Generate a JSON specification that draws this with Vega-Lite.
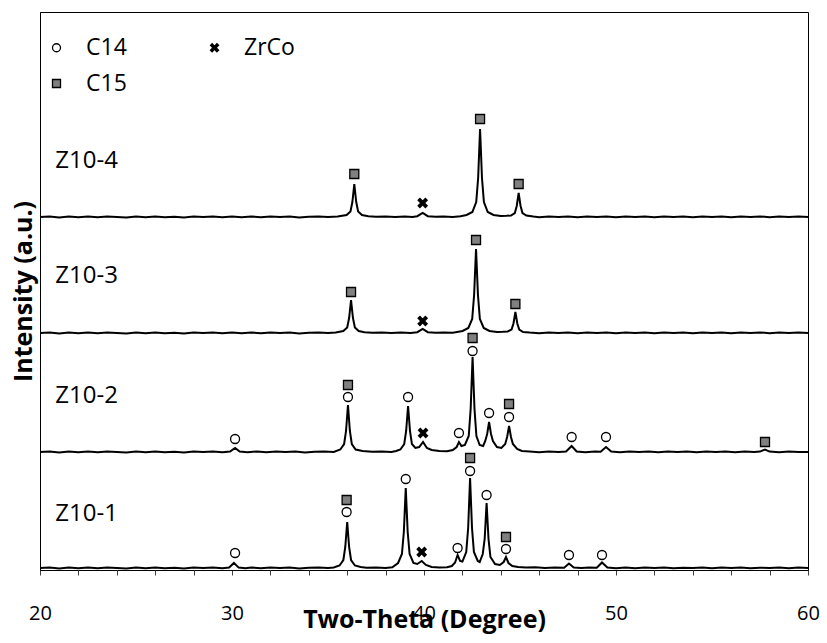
{
  "$schema": "https://vega.github.io/schema/vega-lite/v6.json",
  "width": 768,
  "height": 558,
  "autosize": {"type": "none"},
  "padding": {"left": 40, "top": 12, "right": 19, "bottom": 73},
  "background": "white",
  "config": {"view": {"stroke": "black", "strokeWidth": 1}, "font": "Open Sans"},
  "resolve": {"axis": {"x": "independent"}},
  "datasets": {
    "traces": [
      {"s":"Z10-1","t":20,"i":2},{"s":"Z10-1","t":20.5,"i":2.6},{"s":"Z10-1","t":21,"i":1.6},{"s":"Z10-1","t":21.5,"i":2.4},{"s":"Z10-1","t":22,"i":1.8},{"s":"Z10-1","t":22.5,"i":2.5},{"s":"Z10-1","t":23,"i":1.7},{"s":"Z10-1","t":23.5,"i":2.6},{"s":"Z10-1","t":24,"i":2},{"s":"Z10-1","t":24.5,"i":1.6},{"s":"Z10-1","t":25,"i":2.5},{"s":"Z10-1","t":25.5,"i":1.8},{"s":"Z10-1","t":26,"i":2.6},{"s":"Z10-1","t":26.5,"i":1.7},{"s":"Z10-1","t":27,"i":2.3},{"s":"Z10-1","t":27.5,"i":1.6},{"s":"Z10-1","t":28,"i":2.5},{"s":"Z10-1","t":28.5,"i":2},{"s":"Z10-1","t":29,"i":2.6},{"s":"Z10-1","t":29.5,"i":1.8},{"s":"Z10-1","t":29.85,"i":2.5},{"s":"Z10-1","t":30.1,"i":7},{"s":"Z10-1","t":30.35,"i":2.4},{"s":"Z10-1","t":30.7,"i":1.8},{"s":"Z10-1","t":31,"i":2.6},{"s":"Z10-1","t":31.5,"i":1.7},{"s":"Z10-1","t":32,"i":2.4},{"s":"Z10-1","t":32.5,"i":2},{"s":"Z10-1","t":33,"i":2.6},{"s":"Z10-1","t":33.5,"i":1.6},{"s":"Z10-1","t":34,"i":2.3},{"s":"Z10-1","t":34.5,"i":2.6},{"s":"Z10-1","t":35,"i":1.9},{"s":"Z10-1","t":35.3,"i":2.5},{"s":"Z10-1","t":35.6,"i":4.5},{"s":"Z10-1","t":35.8,"i":10},{"s":"Z10-1","t":35.9,"i":23},{"s":"Z10-1","t":36,"i":48},{"s":"Z10-1","t":36.1,"i":23},{"s":"Z10-1","t":36.2,"i":10},{"s":"Z10-1","t":36.4,"i":4.5},{"s":"Z10-1","t":36.7,"i":3},{"s":"Z10-1","t":37,"i":2.2},{"s":"Z10-1","t":37.5,"i":2.6},{"s":"Z10-1","t":38,"i":1.9},{"s":"Z10-1","t":38.35,"i":2.8},{"s":"Z10-1","t":38.65,"i":7},{"s":"Z10-1","t":38.85,"i":16},{"s":"Z10-1","t":38.95,"i":38},{"s":"Z10-1","t":39.05,"i":82},{"s":"Z10-1","t":39.15,"i":38},{"s":"Z10-1","t":39.25,"i":16},{"s":"Z10-1","t":39.45,"i":7},{"s":"Z10-1","t":39.65,"i":6},{"s":"Z10-1","t":39.88,"i":9},{"s":"Z10-1","t":40.1,"i":5},{"s":"Z10-1","t":40.4,"i":3},{"s":"Z10-1","t":40.8,"i":2.4},{"s":"Z10-1","t":41.2,"i":2.8},{"s":"Z10-1","t":41.45,"i":4},{"s":"Z10-1","t":41.62,"i":7.5},{"s":"Z10-1","t":41.75,"i":15},{"s":"Z10-1","t":41.88,"i":9},{"s":"Z10-1","t":42,"i":8.5},{"s":"Z10-1","t":42.2,"i":18},{"s":"Z10-1","t":42.3,"i":42},{"s":"Z10-1","t":42.4,"i":92},{"s":"Z10-1","t":42.5,"i":42},{"s":"Z10-1","t":42.6,"i":18},{"s":"Z10-1","t":42.8,"i":9},{"s":"Z10-1","t":42.9,"i":8},{"s":"Z10-1","t":43.06,"i":16},{"s":"Z10-1","t":43.16,"i":31},{"s":"Z10-1","t":43.26,"i":67},{"s":"Z10-1","t":43.36,"i":31},{"s":"Z10-1","t":43.46,"i":13},{"s":"Z10-1","t":43.7,"i":6},{"s":"Z10-1","t":43.95,"i":5},{"s":"Z10-1","t":44.15,"i":8},{"s":"Z10-1","t":44.27,"i":13},{"s":"Z10-1","t":44.4,"i":7},{"s":"Z10-1","t":44.6,"i":4},{"s":"Z10-1","t":44.9,"i":3},{"s":"Z10-1","t":45.3,"i":2.4},{"s":"Z10-1","t":45.8,"i":2.7},{"s":"Z10-1","t":46.3,"i":1.9},{"s":"Z10-1","t":46.8,"i":2.5},{"s":"Z10-1","t":47.3,"i":2.2},{"s":"Z10-1","t":47.55,"i":6.5},{"s":"Z10-1","t":47.8,"i":2.5},{"s":"Z10-1","t":48.2,"i":1.9},{"s":"Z10-1","t":48.6,"i":2.6},{"s":"Z10-1","t":49,"i":2.2},{"s":"Z10-1","t":49.27,"i":7.5},{"s":"Z10-1","t":49.55,"i":2.5},{"s":"Z10-1","t":50,"i":1.8},{"s":"Z10-1","t":50.5,"i":2.5},{"s":"Z10-1","t":51,"i":1.7},{"s":"Z10-1","t":51.5,"i":2.4},{"s":"Z10-1","t":52,"i":2},{"s":"Z10-1","t":52.5,"i":2.6},{"s":"Z10-1","t":53,"i":1.7},{"s":"Z10-1","t":53.5,"i":2.3},{"s":"Z10-1","t":54,"i":1.9},{"s":"Z10-1","t":54.5,"i":2.6},{"s":"Z10-1","t":55,"i":1.8},{"s":"Z10-1","t":55.5,"i":2.4},{"s":"Z10-1","t":56,"i":2},{"s":"Z10-1","t":56.5,"i":2.6},{"s":"Z10-1","t":57,"i":1.7},{"s":"Z10-1","t":57.5,"i":2.3},{"s":"Z10-1","t":58,"i":1.9},{"s":"Z10-1","t":58.5,"i":2.5},{"s":"Z10-1","t":59,"i":1.8},{"s":"Z10-1","t":59.5,"i":2.4},{"s":"Z10-1","t":60,"i":2},

      {"s":"Z10-2","t":20,"i":118},{"s":"Z10-2","t":20.5,"i":118.6},{"s":"Z10-2","t":21,"i":117.6},{"s":"Z10-2","t":21.5,"i":118.4},{"s":"Z10-2","t":22,"i":117.8},{"s":"Z10-2","t":22.5,"i":118.5},{"s":"Z10-2","t":23,"i":117.7},{"s":"Z10-2","t":23.5,"i":118.6},{"s":"Z10-2","t":24,"i":118},{"s":"Z10-2","t":24.5,"i":117.6},{"s":"Z10-2","t":25,"i":118.5},{"s":"Z10-2","t":25.5,"i":117.8},{"s":"Z10-2","t":26,"i":118.6},{"s":"Z10-2","t":26.5,"i":117.7},{"s":"Z10-2","t":27,"i":118.3},{"s":"Z10-2","t":27.5,"i":117.6},{"s":"Z10-2","t":28,"i":118.5},{"s":"Z10-2","t":28.5,"i":118},{"s":"Z10-2","t":29,"i":118.6},{"s":"Z10-2","t":29.5,"i":117.8},{"s":"Z10-2","t":29.9,"i":118.5},{"s":"Z10-2","t":30.16,"i":122},{"s":"Z10-2","t":30.4,"i":118.4},{"s":"Z10-2","t":30.8,"i":117.8},{"s":"Z10-2","t":31.3,"i":118.6},{"s":"Z10-2","t":31.8,"i":117.7},{"s":"Z10-2","t":32.3,"i":118.4},{"s":"Z10-2","t":32.8,"i":118},{"s":"Z10-2","t":33.3,"i":118.6},{"s":"Z10-2","t":33.8,"i":117.6},{"s":"Z10-2","t":34.3,"i":118.3},{"s":"Z10-2","t":34.8,"i":118.6},{"s":"Z10-2","t":35.3,"i":118},{"s":"Z10-2","t":35.64,"i":120.5},{"s":"Z10-2","t":35.84,"i":126},{"s":"Z10-2","t":35.94,"i":139},{"s":"Z10-2","t":36.04,"i":165},{"s":"Z10-2","t":36.14,"i":139},{"s":"Z10-2","t":36.24,"i":126},{"s":"Z10-2","t":36.44,"i":120.5},{"s":"Z10-2","t":36.8,"i":119},{"s":"Z10-2","t":37.3,"i":118.2},{"s":"Z10-2","t":37.8,"i":118.6},{"s":"Z10-2","t":38.3,"i":118},{"s":"Z10-2","t":38.55,"i":119},{"s":"Z10-2","t":38.77,"i":120.5},{"s":"Z10-2","t":38.97,"i":126},{"s":"Z10-2","t":39.07,"i":139},{"s":"Z10-2","t":39.17,"i":164},{"s":"Z10-2","t":39.27,"i":139},{"s":"Z10-2","t":39.37,"i":126},{"s":"Z10-2","t":39.55,"i":122},{"s":"Z10-2","t":39.75,"i":123},{"s":"Z10-2","t":39.95,"i":128},{"s":"Z10-2","t":40.15,"i":122},{"s":"Z10-2","t":40.4,"i":120},{"s":"Z10-2","t":40.8,"i":119},{"s":"Z10-2","t":41.2,"i":118.8},{"s":"Z10-2","t":41.5,"i":120},{"s":"Z10-2","t":41.7,"i":123},{"s":"Z10-2","t":41.82,"i":128},{"s":"Z10-2","t":41.95,"i":124},{"s":"Z10-2","t":42.13,"i":125},{"s":"Z10-2","t":42.33,"i":134},{"s":"Z10-2","t":42.43,"i":161},{"s":"Z10-2","t":42.53,"i":213},{"s":"Z10-2","t":42.63,"i":161},{"s":"Z10-2","t":42.73,"i":134},{"s":"Z10-2","t":42.9,"i":125},{"s":"Z10-2","t":43.08,"i":124},{"s":"Z10-2","t":43.19,"i":129},{"s":"Z10-2","t":43.29,"i":136},{"s":"Z10-2","t":43.39,"i":148},{"s":"Z10-2","t":43.49,"i":136},{"s":"Z10-2","t":43.59,"i":129},{"s":"Z10-2","t":43.8,"i":123},{"s":"Z10-2","t":44.03,"i":122},{"s":"Z10-2","t":44.23,"i":126},{"s":"Z10-2","t":44.33,"i":133},{"s":"Z10-2","t":44.43,"i":144},{"s":"Z10-2","t":44.53,"i":133},{"s":"Z10-2","t":44.63,"i":126},{"s":"Z10-2","t":44.85,"i":121},{"s":"Z10-2","t":45.1,"i":119},{"s":"Z10-2","t":45.5,"i":118.5},{"s":"Z10-2","t":46,"i":117.8},{"s":"Z10-2","t":46.5,"i":118.5},{"s":"Z10-2","t":47,"i":118},{"s":"Z10-2","t":47.4,"i":118.5},{"s":"Z10-2","t":47.69,"i":124},{"s":"Z10-2","t":47.95,"i":118.5},{"s":"Z10-2","t":48.4,"i":117.8},{"s":"Z10-2","t":48.9,"i":118.5},{"s":"Z10-2","t":49.2,"i":118.3},{"s":"Z10-2","t":49.48,"i":123},{"s":"Z10-2","t":49.75,"i":118.5},{"s":"Z10-2","t":50.2,"i":117.8},{"s":"Z10-2","t":50.7,"i":118.5},{"s":"Z10-2","t":51.2,"i":117.9},{"s":"Z10-2","t":51.7,"i":118.5},{"s":"Z10-2","t":52.2,"i":117.8},{"s":"Z10-2","t":52.7,"i":118.6},{"s":"Z10-2","t":53.2,"i":117.9},{"s":"Z10-2","t":53.7,"i":118.4},{"s":"Z10-2","t":54.2,"i":117.8},{"s":"Z10-2","t":54.7,"i":118.5},{"s":"Z10-2","t":55.2,"i":117.9},{"s":"Z10-2","t":55.7,"i":118.6},{"s":"Z10-2","t":56.2,"i":117.8},{"s":"Z10-2","t":56.7,"i":118.5},{"s":"Z10-2","t":57.2,"i":118},{"s":"Z10-2","t":57.5,"i":118.4},{"s":"Z10-2","t":57.76,"i":120.5},{"s":"Z10-2","t":58,"i":118.4},{"s":"Z10-2","t":58.5,"i":117.8},{"s":"Z10-2","t":59,"i":118.5},{"s":"Z10-2","t":59.5,"i":117.9},{"s":"Z10-2","t":60,"i":118},

      {"s":"Z10-3","t":20,"i":237},{"s":"Z10-3","t":20.5,"i":237.6},{"s":"Z10-3","t":21,"i":236.6},{"s":"Z10-3","t":21.5,"i":237.4},{"s":"Z10-3","t":22,"i":236.8},{"s":"Z10-3","t":22.5,"i":237.5},{"s":"Z10-3","t":23,"i":236.7},{"s":"Z10-3","t":23.5,"i":237.6},{"s":"Z10-3","t":24,"i":237},{"s":"Z10-3","t":24.5,"i":236.6},{"s":"Z10-3","t":25,"i":237.5},{"s":"Z10-3","t":25.5,"i":236.8},{"s":"Z10-3","t":26,"i":237.6},{"s":"Z10-3","t":26.5,"i":236.7},{"s":"Z10-3","t":27,"i":237.3},{"s":"Z10-3","t":27.5,"i":236.6},{"s":"Z10-3","t":28,"i":237.5},{"s":"Z10-3","t":28.5,"i":237},{"s":"Z10-3","t":29,"i":237.6},{"s":"Z10-3","t":29.5,"i":236.8},{"s":"Z10-3","t":30,"i":237.4},{"s":"Z10-3","t":30.5,"i":236.7},{"s":"Z10-3","t":31,"i":237.6},{"s":"Z10-3","t":31.5,"i":236.8},{"s":"Z10-3","t":32,"i":237.4},{"s":"Z10-3","t":32.5,"i":237},{"s":"Z10-3","t":33,"i":237.6},{"s":"Z10-3","t":33.5,"i":236.6},{"s":"Z10-3","t":34,"i":237.3},{"s":"Z10-3","t":34.5,"i":237.6},{"s":"Z10-3","t":35,"i":236.9},{"s":"Z10-3","t":35.4,"i":237.6},{"s":"Z10-3","t":35.8,"i":239},{"s":"Z10-3","t":36,"i":242.5},{"s":"Z10-3","t":36.1,"i":252},{"s":"Z10-3","t":36.2,"i":270},{"s":"Z10-3","t":36.3,"i":252},{"s":"Z10-3","t":36.4,"i":242.5},{"s":"Z10-3","t":36.6,"i":239},{"s":"Z10-3","t":36.9,"i":237.8},{"s":"Z10-3","t":37.3,"i":237.2},{"s":"Z10-3","t":37.8,"i":237.6},{"s":"Z10-3","t":38.3,"i":236.9},{"s":"Z10-3","t":38.8,"i":237.5},{"s":"Z10-3","t":39.3,"i":237.1},{"s":"Z10-3","t":39.65,"i":237.8},{"s":"Z10-3","t":39.93,"i":241},{"s":"Z10-3","t":40.2,"i":237.8},{"s":"Z10-3","t":40.6,"i":237.2},{"s":"Z10-3","t":41,"i":237.6},{"s":"Z10-3","t":41.5,"i":237.2},{"s":"Z10-3","t":42.01,"i":239},{"s":"Z10-3","t":42.31,"i":242},{"s":"Z10-3","t":42.51,"i":251},{"s":"Z10-3","t":42.61,"i":275},{"s":"Z10-3","t":42.71,"i":321},{"s":"Z10-3","t":42.81,"i":275},{"s":"Z10-3","t":42.91,"i":251},{"s":"Z10-3","t":43.11,"i":242},{"s":"Z10-3","t":43.41,"i":239},{"s":"Z10-3","t":43.8,"i":238},{"s":"Z10-3","t":44.1,"i":238.2},{"s":"Z10-3","t":44.36,"i":238.5},{"s":"Z10-3","t":44.56,"i":240.5},{"s":"Z10-3","t":44.66,"i":246.5},{"s":"Z10-3","t":44.76,"i":258},{"s":"Z10-3","t":44.86,"i":246.5},{"s":"Z10-3","t":44.96,"i":240.5},{"s":"Z10-3","t":45.16,"i":238},{"s":"Z10-3","t":45.5,"i":237.4},{"s":"Z10-3","t":46,"i":236.8},{"s":"Z10-3","t":46.5,"i":237.5},{"s":"Z10-3","t":47,"i":236.9},{"s":"Z10-3","t":47.5,"i":237.6},{"s":"Z10-3","t":48,"i":236.8},{"s":"Z10-3","t":48.5,"i":237.5},{"s":"Z10-3","t":49,"i":236.9},{"s":"Z10-3","t":49.5,"i":237.6},{"s":"Z10-3","t":50,"i":236.8},{"s":"Z10-3","t":50.5,"i":237.5},{"s":"Z10-3","t":51,"i":236.9},{"s":"Z10-3","t":51.5,"i":237.6},{"s":"Z10-3","t":52,"i":236.8},{"s":"Z10-3","t":52.5,"i":237.5},{"s":"Z10-3","t":53,"i":236.9},{"s":"Z10-3","t":53.5,"i":237.6},{"s":"Z10-3","t":54,"i":236.8},{"s":"Z10-3","t":54.5,"i":237.5},{"s":"Z10-3","t":55,"i":236.9},{"s":"Z10-3","t":55.5,"i":237.6},{"s":"Z10-3","t":56,"i":236.8},{"s":"Z10-3","t":56.5,"i":237.5},{"s":"Z10-3","t":57,"i":236.9},{"s":"Z10-3","t":57.5,"i":237.6},{"s":"Z10-3","t":58,"i":236.8},{"s":"Z10-3","t":58.5,"i":237.5},{"s":"Z10-3","t":59,"i":236.9},{"s":"Z10-3","t":59.5,"i":237.6},{"s":"Z10-3","t":60,"i":237},

      {"s":"Z10-4","t":20,"i":353},{"s":"Z10-4","t":20.5,"i":353.6},{"s":"Z10-4","t":21,"i":352.6},{"s":"Z10-4","t":21.5,"i":353.4},{"s":"Z10-4","t":22,"i":352.8},{"s":"Z10-4","t":22.5,"i":353.5},{"s":"Z10-4","t":23,"i":352.7},{"s":"Z10-4","t":23.5,"i":353.6},{"s":"Z10-4","t":24,"i":353},{"s":"Z10-4","t":24.5,"i":352.6},{"s":"Z10-4","t":25,"i":353.5},{"s":"Z10-4","t":25.5,"i":352.8},{"s":"Z10-4","t":26,"i":353.6},{"s":"Z10-4","t":26.5,"i":352.7},{"s":"Z10-4","t":27,"i":353.3},{"s":"Z10-4","t":27.5,"i":352.6},{"s":"Z10-4","t":28,"i":353.5},{"s":"Z10-4","t":28.5,"i":353},{"s":"Z10-4","t":29,"i":353.6},{"s":"Z10-4","t":29.5,"i":352.8},{"s":"Z10-4","t":30,"i":353.4},{"s":"Z10-4","t":30.5,"i":352.7},{"s":"Z10-4","t":31,"i":353.6},{"s":"Z10-4","t":31.5,"i":352.8},{"s":"Z10-4","t":32,"i":353.4},{"s":"Z10-4","t":32.5,"i":353},{"s":"Z10-4","t":33,"i":353.6},{"s":"Z10-4","t":33.5,"i":352.6},{"s":"Z10-4","t":34,"i":353.3},{"s":"Z10-4","t":34.5,"i":353.6},{"s":"Z10-4","t":35,"i":352.9},{"s":"Z10-4","t":35.5,"i":353.6},{"s":"Z10-4","t":35.97,"i":355},{"s":"Z10-4","t":36.17,"i":358.5},{"s":"Z10-4","t":36.27,"i":368},{"s":"Z10-4","t":36.37,"i":386},{"s":"Z10-4","t":36.47,"i":368},{"s":"Z10-4","t":36.57,"i":358.5},{"s":"Z10-4","t":36.77,"i":355},{"s":"Z10-4","t":37.1,"i":353.8},{"s":"Z10-4","t":37.5,"i":353.2},{"s":"Z10-4","t":38,"i":353.6},{"s":"Z10-4","t":38.5,"i":352.9},{"s":"Z10-4","t":39,"i":353.5},{"s":"Z10-4","t":39.4,"i":353.1},{"s":"Z10-4","t":39.65,"i":353.8},{"s":"Z10-4","t":39.93,"i":357},{"s":"Z10-4","t":40.2,"i":353.8},{"s":"Z10-4","t":40.6,"i":353.2},{"s":"Z10-4","t":41,"i":353.6},{"s":"Z10-4","t":41.5,"i":353.1},{"s":"Z10-4","t":41.9,"i":353.8},{"s":"Z10-4","t":42.22,"i":355},{"s":"Z10-4","t":42.52,"i":358},{"s":"Z10-4","t":42.72,"i":368},{"s":"Z10-4","t":42.82,"i":392},{"s":"Z10-4","t":42.92,"i":441},{"s":"Z10-4","t":43.02,"i":392},{"s":"Z10-4","t":43.12,"i":368},{"s":"Z10-4","t":43.32,"i":358},{"s":"Z10-4","t":43.62,"i":355},{"s":"Z10-4","t":44,"i":354},{"s":"Z10-4","t":44.3,"i":354.2},{"s":"Z10-4","t":44.53,"i":354.5},{"s":"Z10-4","t":44.73,"i":357},{"s":"Z10-4","t":44.83,"i":364},{"s":"Z10-4","t":44.93,"i":377},{"s":"Z10-4","t":45.03,"i":364},{"s":"Z10-4","t":45.13,"i":357},{"s":"Z10-4","t":45.33,"i":354.5},{"s":"Z10-4","t":45.7,"i":353.4},{"s":"Z10-4","t":46,"i":352.8},{"s":"Z10-4","t":46.5,"i":353.5},{"s":"Z10-4","t":47,"i":352.9},{"s":"Z10-4","t":47.5,"i":353.6},{"s":"Z10-4","t":48,"i":352.8},{"s":"Z10-4","t":48.5,"i":353.5},{"s":"Z10-4","t":49,"i":352.9},{"s":"Z10-4","t":49.5,"i":353.6},{"s":"Z10-4","t":50,"i":352.8},{"s":"Z10-4","t":50.5,"i":353.5},{"s":"Z10-4","t":51,"i":352.9},{"s":"Z10-4","t":51.5,"i":353.6},{"s":"Z10-4","t":52,"i":352.8},{"s":"Z10-4","t":52.5,"i":353.5},{"s":"Z10-4","t":53,"i":352.9},{"s":"Z10-4","t":53.5,"i":353.6},{"s":"Z10-4","t":54,"i":352.8},{"s":"Z10-4","t":54.5,"i":353.5},{"s":"Z10-4","t":55,"i":352.9},{"s":"Z10-4","t":55.5,"i":353.6},{"s":"Z10-4","t":56,"i":352.8},{"s":"Z10-4","t":56.5,"i":353.5},{"s":"Z10-4","t":57,"i":352.9},{"s":"Z10-4","t":57.5,"i":353.6},{"s":"Z10-4","t":58,"i":352.8},{"s":"Z10-4","t":58.5,"i":353.5},{"s":"Z10-4","t":59,"i":352.9},{"s":"Z10-4","t":59.5,"i":353.6},{"s":"Z10-4","t":60,"i":353}
    ],
    "markers": [
      {"s":"Z10-1","t":30.16,"y":17,"p":"C14"},{"s":"Z10-1","t":35.97,"y":70,"p":"C15"},{"s":"Z10-1","t":35.97,"y":58,"p":"C14"},{"s":"Z10-1","t":39.05,"y":91,"p":"C14"},{"s":"Z10-1","t":39.88,"y":18,"p":"ZrCo"},{"s":"Z10-1","t":41.75,"y":22,"p":"C14"},{"s":"Z10-1","t":42.4,"y":112,"p":"C15"},{"s":"Z10-1","t":42.4,"y":99,"p":"C14"},{"s":"Z10-1","t":43.26,"y":75,"p":"C14"},{"s":"Z10-1","t":44.27,"y":33,"p":"C15"},{"s":"Z10-1","t":44.27,"y":21,"p":"C14"},{"s":"Z10-1","t":47.55,"y":15,"p":"C14"},{"s":"Z10-1","t":49.27,"y":15,"p":"C14"},
      {"s":"Z10-2","t":30.16,"y":131,"p":"C14"},{"s":"Z10-2","t":36.04,"y":185,"p":"C15"},{"s":"Z10-2","t":36.04,"y":173,"p":"C14"},{"s":"Z10-2","t":39.17,"y":173,"p":"C14"},{"s":"Z10-2","t":39.95,"y":137,"p":"ZrCo"},{"s":"Z10-2","t":41.82,"y":137,"p":"C14"},{"s":"Z10-2","t":42.53,"y":232,"p":"C15"},{"s":"Z10-2","t":42.53,"y":219,"p":"C14"},{"s":"Z10-2","t":43.39,"y":157,"p":"C14"},{"s":"Z10-2","t":44.43,"y":166,"p":"C15"},{"s":"Z10-2","t":44.43,"y":153,"p":"C14"},{"s":"Z10-2","t":47.69,"y":133,"p":"C14"},{"s":"Z10-2","t":49.48,"y":133,"p":"C14"},{"s":"Z10-2","t":57.76,"y":128,"p":"C15"},
      {"s":"Z10-3","t":36.2,"y":278,"p":"C15"},{"s":"Z10-3","t":39.93,"y":249,"p":"ZrCo"},{"s":"Z10-3","t":42.71,"y":330,"p":"C15"},{"s":"Z10-3","t":44.76,"y":266,"p":"C15"},
      {"s":"Z10-4","t":36.37,"y":396,"p":"C15"},{"s":"Z10-4","t":39.93,"y":367,"p":"ZrCo"},{"s":"Z10-4","t":42.92,"y":451,"p":"C15"},{"s":"Z10-4","t":44.93,"y":386,"p":"C15"}
    ],
    "labels": [
      {"label":"Z10-1","t":20.8,"y":56},
      {"label":"Z10-2","t":20.8,"y":174},
      {"label":"Z10-3","t":20.8,"y":294},
      {"label":"Z10-4","t":20.8,"y":409}
    ]
  },
  "layer": [
    {
      "data": {"name": "traces"},
      "mark": {"type": "line", "color": "black", "strokeWidth": 2},
      "encoding": {
        "x": {"field": "t", "type": "quantitative",
          "scale": {"domain": [20, 60], "nice": false, "zero": false},
          "axis": {"orient": "bottom", "title": "Two-Theta (Degree)", "values": [20, 30, 40, 50, 60],
            "labelOverlap": false, "labelBound": false, "grid": false, "tickSize": 5, "tickColor": "#404040",
            "domainColor": "black", "labelFontSize": 20, "labelColor": "black", "labelPadding": 28, "labelFlush": false,
            "titleFontSize": 25, "titleFontWeight": "bold", "titleColor": "black", "titleBaseline": "alphabetic", "titleY": 57}},
        "y": {"field": "i", "type": "quantitative",
          "scale": {"domain": [0, 558], "nice": false, "zero": false},
          "axis": {"title": "Intensity (a.u.)", "ticks": false, "labels": false, "grid": false, "domainColor": "black",
            "titleFontSize": 25, "titleFontWeight": "bold", "titleColor": "black", "titleBaseline": "alphabetic", "titleX": -9}},
        "detail": {"field": "s", "type": "nominal"}
      }
    },
    {
      "data": {"name": "markers"},
      "mark": {"type": "point", "filled": true, "strokeWidth": 1.3, "size": 81, "opacity": 1},
      "encoding": {
        "x": {"field": "t", "type": "quantitative",
          "axis": {"orient": "bottom", "title": null, "values": [22,24,26,28,32,34,36,38,42,44,46,48,52,54,56,58],
            "labels": false, "domain": false, "grid": false, "tickSize": 5, "tickColor": "#404040", "offset": 0}},
        "y": {"field": "y", "type": "quantitative"},
        "shape": {"field": "p", "type": "nominal",
          "scale": {"domain": ["C14", "C15", "ZrCo"], "range": ["circle", "square", "M-1,-0.6L-0.6,-1L0,-0.4L0.6,-1L1,-0.6L0.4,0L1,0.6L0.6,1L0,0.4L-0.6,1L-1,0.6L-0.4,0Z"]},
          "legend": {"title": null, "orient": "none", "legendX": 5, "legendY": 24, "columns": 2, "columnPadding": 76, "rowPadding": 12,
            "values": ["C14", "C15", "ZrCo"],
            "labelFontSize": 23, "labelFont": "Open Sans", "labelColor": "black", "symbolSize": 64, "symbolStrokeWidth": 1.3,
            "labelOffset": 18, "padding": 0}},
        "fill": {"field": "p", "type": "nominal",
          "scale": {"domain": ["C14", "C15", "ZrCo"], "range": ["white", "#808080", "black"]},
          "legend": {"title": null, "orient": "none", "legendX": 5, "legendY": 24, "columns": 2, "columnPadding": 76, "rowPadding": 12,
            "values": ["C14", "C15", "ZrCo"],
            "labelFontSize": 23, "labelFont": "Open Sans", "labelColor": "black", "symbolSize": 64, "symbolStrokeWidth": 1.3,
            "labelOffset": 18, "padding": 0}},
        "stroke": {"field": "p", "type": "nominal",
          "scale": {"domain": ["C14", "C15", "ZrCo"], "range": ["black", "black", "black"]},
          "legend": {"title": null, "orient": "none", "legendX": 5, "legendY": 24, "columns": 2, "columnPadding": 76, "rowPadding": 12,
            "values": ["C14", "C15", "ZrCo"],
            "labelFontSize": 23, "labelFont": "Open Sans", "labelColor": "black", "symbolSize": 64, "symbolStrokeWidth": 1.3,
            "labelOffset": 18, "padding": 0}}
      }
    },
    {
      "data": {"name": "labels"},
      "mark": {"type": "text", "align": "left", "baseline": "middle", "fontSize": 24, "font": "Open Sans", "color": "black"},
      "encoding": {
        "x": {"field": "t", "type": "quantitative", "axis": null},
        "y": {"field": "y", "type": "quantitative"},
        "text": {"field": "label", "type": "nominal"}
      }
    }
  ]
}
